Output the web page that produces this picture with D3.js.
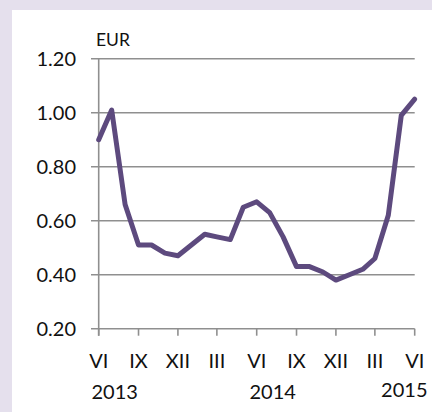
<!DOCTYPE html>
<html lang="en">
<head>
<meta charset="UTF-8">
<title>EUR price</title>
<script src="https://d3js.org/d3.v7.min.js"></script>
<style>
    body { margin: 0; background: #e5e0ed; }
    svg { display: block; }
    .tick-label { font-family: Lato, "Noto Sans", sans-serif; font-size: 20px; fill: #111; }
</style>
</head>
<body>
<script>
// monthly values, June 2013 .. June 2015
const months = d3.range(25).map(i => new Date(2013, 5 + i, 1));
const prices = [0.90, 1.01, 0.66, 0.51, 0.51, 0.48, 0.47, 0.51, 0.55, 0.54, 0.53, 0.65, 0.67,
                0.63, 0.54, 0.43, 0.43, 0.41, 0.38, 0.40, 0.42, 0.46, 0.62, 0.99, 1.05];
const yTicks = [0.20, 0.40, 0.60, 0.80, 1.00, 1.20];
const quarterLabels = ["VI", "IX", "XII", "III", "VI", "IX", "XII", "III", "VI"];
const yearLabels = ["2013", "2014", "2015"];
const yearAt = [new Date(2013, 6, 8), new Date(2014, 6, 8), new Date(2015, 4, 8)];

const width = 432, height = 412;
const svg = d3.select("body").append("svg")
    .attr("width", width).attr("height", height);

// white panel
svg.append("rect").attr("x", 12).attr("y", 10)
    .attr("width", width - 12).attr("height", height - 10).attr("fill", "white");

const x = d3.scaleTime().domain([months[0], months[24]]).range([98.7, 414.7]);
const y = d3.scaleLinear().domain([0.2, 1.2]).range([328.7, 58.7]);

const gridColor = "#8f8f8f";

// gridlines
svg.append("g").selectAll("line")
    .data(yTicks)
    .join("line")
    .attr("x1", 91).attr("x2", x.range()[1])
    .attr("y1", d => y(d)).attr("y2", d => y(d))
    .attr("stroke", gridColor).attr("stroke-width", 1.6);

// y axis line
svg.append("line")
    .attr("x1", x.range()[0]).attr("x2", x.range()[0])
    .attr("y1", y(1.2)).attr("y2", y(0.2) + 7)
    .attr("stroke", gridColor).attr("stroke-width", 1.6);

// x tick marks
const quarters = months.filter((d, i) => i % 3 === 0);
svg.append("g").selectAll("line")
    .data(quarters)
    .join("line")
    .attr("x1", d => x(d)).attr("x2", d => x(d))
    .attr("y1", y(0.2)).attr("y2", y(0.2) + 7)
    .attr("stroke", gridColor).attr("stroke-width", 1.6);

// y labels
svg.append("g").selectAll("text")
    .data(yTicks)
    .join("text")
    .attr("class", "tick-label")
    .attr("x", 76).attr("y", d => y(d))
    .attr("dy", "0.36em")
    .attr("text-anchor", "end")
    .text(d => d.toFixed(2));

svg.append("text").attr("class", "tick-label")
    .attr("x", 96).attr("y", 45.5)
    .style("font-size", "17.5px")
    .text("EUR");

// x labels
svg.append("g").selectAll("text")
    .data(quarters)
    .join("text")
    .attr("class", "tick-label")
    .attr("x", d => x(d)).attr("y", 367.5)
    .attr("text-anchor", "middle")
    .text((d, i) => quarterLabels[i]);

svg.append("g").selectAll("text")
    .data(yearLabels)
    .join("text")
    .attr("class", "tick-label")
    .attr("x", (d, i) => x(yearAt[i])).attr("y", (d, i) => i === 2 ? 396.5 : 398.5)
    .attr("text-anchor", "middle")
    .text(d => d);

// price line
const line = d3.line()
    .x((d, i) => x(months[i]))
    .y(d => y(d));

svg.append("path")
    .datum(prices)
    .attr("d", line)
    .attr("fill", "none")
    .attr("stroke", "#5d4a7e")
    .attr("stroke-width", 5)
    .attr("stroke-linejoin", "round")
    .attr("stroke-linecap", "round");
</script>
</body>
</html>
